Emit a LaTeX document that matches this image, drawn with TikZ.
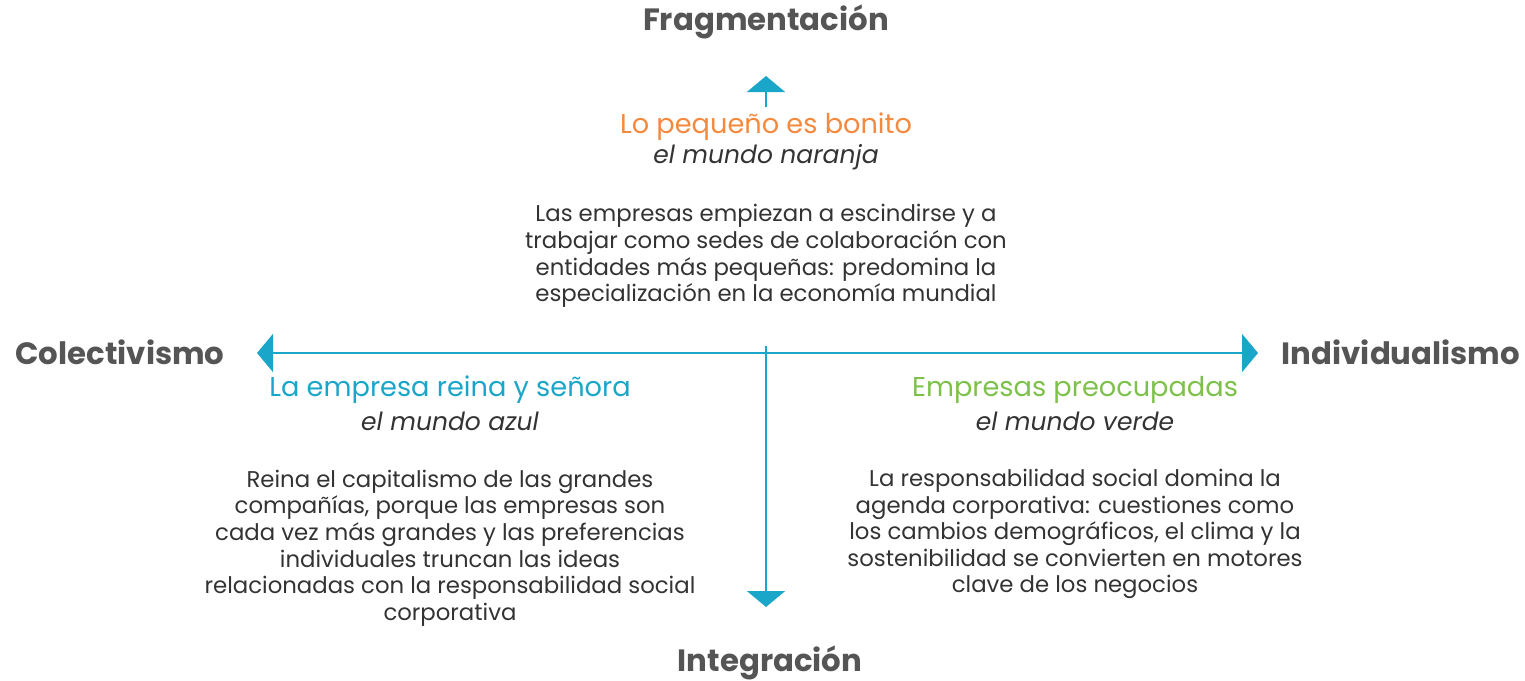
\documentclass[tikz,border=0pt]{standalone}
\usepackage{fontspec}
\setmainfont{Poppins}
\usepackage{xcolor}
\usetikzlibrary{arrows.meta, positioning}

\definecolor{axisblue}{HTML}{1AA6C9}
\definecolor{headgray}{HTML}{555555}
\definecolor{textgray}{HTML}{333333}
\definecolor{worldorange}{HTML}{F5893D}
\definecolor{worldblue}{HTML}{1AA6C9}
\definecolor{worldgreen}{HTML}{7DC14B}

\begin{document}
\begin{tikzpicture}[
    x=0.5pt, y=-0.5pt,
    axis/.style={draw=axisblue, line width=1pt,
        -{Triangle[width=19pt, length=8pt, fill=axisblue]}},
    pole/.style={font=\fontsize{15.4}{17}\selectfont\bfseries, text=headgray},
    world/.style={font=\fontsize{13.6}{15.5}\selectfont, align=center},
    subtitle/.style={font=\fontsize{12.5}{14}\selectfont\itshape, text=textgray},
    desc/.style={font=\fontsize{11.4}{13.3}\selectfont, text=textgray, align=center}
]
\useasboundingbox (0,0) rectangle (1525,680);

% poles of the axes
\node[pole] (frag) at (766,22) {Fragmentación};
\node[pole] (integ) at (770,663) {Integración};
\node[pole] (colect) at (120,352) {Colectivismo};
\node[pole] (indiv) at (1401,352) {Individualismo};

% axis end points
\coordinate (center) at (766,353);
\coordinate (westtip) at (257,353);
\coordinate (easttip) at (1258,353);
\coordinate (topfoot) at (766,107);
\coordinate (toptip) at (766,76);
\coordinate (midfoot) at (766,346);
\coordinate (bottomtip) at (766,607);

% axes
\draw[axis] (center) -- (westtip);
\draw[axis] (center) -- (easttip);
\draw[axis] (topfoot) -- (toptip);
\draw[axis] (midfoot) -- (bottomtip);

% orange world (top)
\node[world, text=worldorange] (orange) at (766,127) {Lo pequeño es bonito};
\node[subtitle] (orangesub) at (766,157) {el mundo naranja};
\node[desc] (orangedesc) at (766,256) {Las empresas empiezan a escindirse y a\\
    trabajar como sedes de colaboración con\\
    entidades más pequeñas: predomina la\\
    especialización en la economía mundial};

% blue world (bottom left)
\node[world, text=worldblue] (blue) at (450,390) {La empresa reina y señora};
\node[subtitle] (bluesub) at (450,421) {el mundo azul};
\node[desc] (bluedesc) at (450,548) {Reina el capitalismo de las grandes\\
    compañías, porque las empresas son\\
    cada vez más grandes y las preferencias\\
    individuales truncan las ideas\\
    relacionadas con la responsabilidad social\\
    corporativa};

% green world (bottom right)
\node[world, text=worldgreen] (green) at (1075,390) {Empresas preocupadas};
\node[subtitle] (greensub) at (1075,421) {el mundo verde};
\node[desc] (greendesc) at (1075,534) {La responsabilidad social domina la\\
    agenda corporativa: cuestiones como\\
    los cambios demográficos, el clima y la\\
    sostenibilidad se convierten en motores\\
    clave de los negocios};

\end{tikzpicture}
\end{document}
